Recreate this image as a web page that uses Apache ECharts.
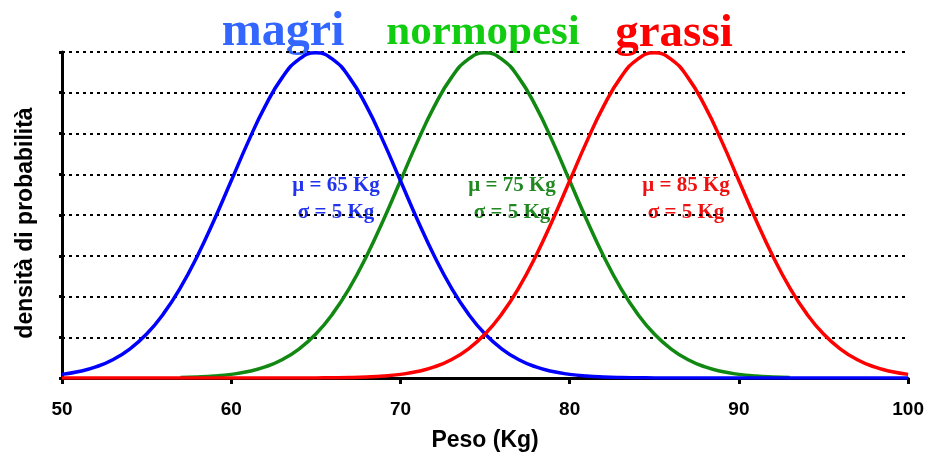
<!DOCTYPE html>
<html><head><meta charset="utf-8">
<script src="https://cdn.jsdelivr.net/npm/echarts@6/dist/echarts.min.js"></script>
<style>html,body{margin:0;padding:0;background:#fff}#c{width:927px;height:457px}</style>
</head><body><div id="c"></div>
<script>
var weights = [50,51,52,53,54,55,56,57,58,59,60,61,62,63,64,65,66,67,68,69,70,71,72,73,74,75,76,77,78,79,80,81,82,83,84,85,86,87,88,89,90,91,92,93,94,95,96,97,98,99,100];
var magri = [0.00089,0.00158,0.00272,0.00448,0.00710,0.01080,0.01579,0.02218,0.02995,0.03884,0.04839,0.05794,0.06664,0.07365,0.07821,0.07979,0.07821,0.07365,0.06664,0.05794,0.04839,0.03884,0.02995,0.02218,0.01579,0.01080,0.00710,0.00448,0.00272,0.00158,0.00089,0.00048,0.00025,0.00012,0.00006,0.00003,0,0,0,0,0,0,0,0,0,0,0,0,0,0,0];
var normopesi = [null,null,null,null,null,null,null,0.00012,0.00025,0.00048,0.00089,0.00158,0.00272,0.00448,0.00710,0.01080,0.01579,0.02218,0.02995,0.03884,0.04839,0.05794,0.06664,0.07365,0.07821,0.07979,0.07821,0.07365,0.06664,0.05794,0.04839,0.03884,0.02995,0.02218,0.01579,0.01080,0.00710,0.00448,0.00272,0.00158,0.00089,0.00048,0.00025,0.00012,null,null,null,null,null,null,null];
var grassi = [0,0,0,0,0,0,0,0,0,0,0,0,0,0,0,0.00003,0.00006,0.00012,0.00025,0.00048,0.00089,0.00158,0.00272,0.00448,0.00710,0.01080,0.01579,0.02218,0.02995,0.03884,0.04839,0.05794,0.06664,0.07365,0.07821,0.07979,0.07821,0.07365,0.06664,0.05794,0.04839,0.03884,0.02995,0.02218,0.01579,0.01080,0.00710,0.00448,0.00272,0.00158,0.00089];
var xTicks = [50,60,70,80,90,100];
var groupNames = ['magri','normopesi','grassi'];
var muLabels = ['\u03bc = 65 Kg','\u03bc = 75 Kg','\u03bc = 85 Kg'];
var sigmaLabels = ['\u03c3 = 5 Kg','\u03c3 = 5 Kg','\u03c3 = 5 Kg'];
var xName = 'Peso (Kg)';
var yName = 'densità di probabilità';

function pairs(ys){ return weights.map(function(w,i){ return ys[i]===null ? null : [w, ys[i]]; }).filter(function(p){return p!==null;}); }

var lineColors = ['#0000ff','#118811','#ff0000'];
var titleColors = ['#3366ff','#11cc11','#ff0000'];
var titleSizes = [48,43,47];
var titleY = [57,54.5,57];
var annColors = ['#2233ee','#228822','#ee1111'];
var titleX = [283,483,674];
var annX = [336,512,686];

var chart = echarts.init(document.getElementById('c'));
var graphics = [];
for (var i=0;i<3;i++){
  graphics.push({type:'text', x:titleX[i], y:titleY[i], style:{text:groupNames[i], fill:titleColors[i], font:'bold '+titleSizes[i]+'px "Liberation Serif", "Times New Roman", serif', textAlign:'center', textVerticalAlign:'bottom'}});
  graphics.push({type:'text', x:annX[i], y:186, style:{text:muLabels[i], fill:annColors[i], font:'bold 21px "Liberation Serif", serif', textAlign:'center', textVerticalAlign:'middle'}});
  graphics.push({type:'text', x:annX[i], y:213, style:{text:sigmaLabels[i], fill:annColors[i], font:'bold 21px "Liberation Serif", serif', textAlign:'center', textVerticalAlign:'middle'}});
}
graphics.push({type:'text', x:26, y:223, rotation:Math.PI/2, style:{text:yName, fill:'#000', font:'bold 23px "Liberation Sans", Arial, sans-serif', textAlign:'center', textVerticalAlign:'middle'}});

chart.setOption({
  animation:false,
  grid:{left:62, right:17, top:52, bottom:77},
  xAxis:{type:'value', min:50, max:100, interval:10,
    name:xName, nameLocation:'middle', nameGap:51,
    nameTextStyle:{fontFamily:'Liberation Sans, Arial', fontWeight:'bold', fontSize:23, color:'#000'},
    axisLine:{lineStyle:{color:'#000', width:3}},
    axisTick:{show:true, length:6, lineStyle:{color:'#000', width:3}},
    axisLabel:{fontFamily:'Liberation Sans, Arial', fontWeight:'bold', fontSize:19, color:'#000', margin:22},
    splitLine:{show:false}},
  yAxis:{type:'value', min:0, max:0.08, interval:0.01,
    axisLine:{show:true, lineStyle:{color:'#000', width:3}},
    axisTick:{show:true, length:3, lineStyle:{color:'#000', width:3}},
    axisLabel:{show:false},
    splitLine:{show:true, lineStyle:{color:'#000', width:2, type:[3,4]}}},
  series:[
    {type:'line', data:pairs(magri), smooth:true, showSymbol:false, lineStyle:{color:lineColors[0], width:3.5}, z:3},
    {type:'line', data:pairs(normopesi), smooth:true, showSymbol:false, lineStyle:{color:lineColors[1], width:3.5}, z:2},
    {type:'line', data:pairs(grassi), smooth:true, showSymbol:false, lineStyle:{color:lineColors[2], width:3.5}, z:4}
  ],
  graphic:graphics
});
</script></body></html>
